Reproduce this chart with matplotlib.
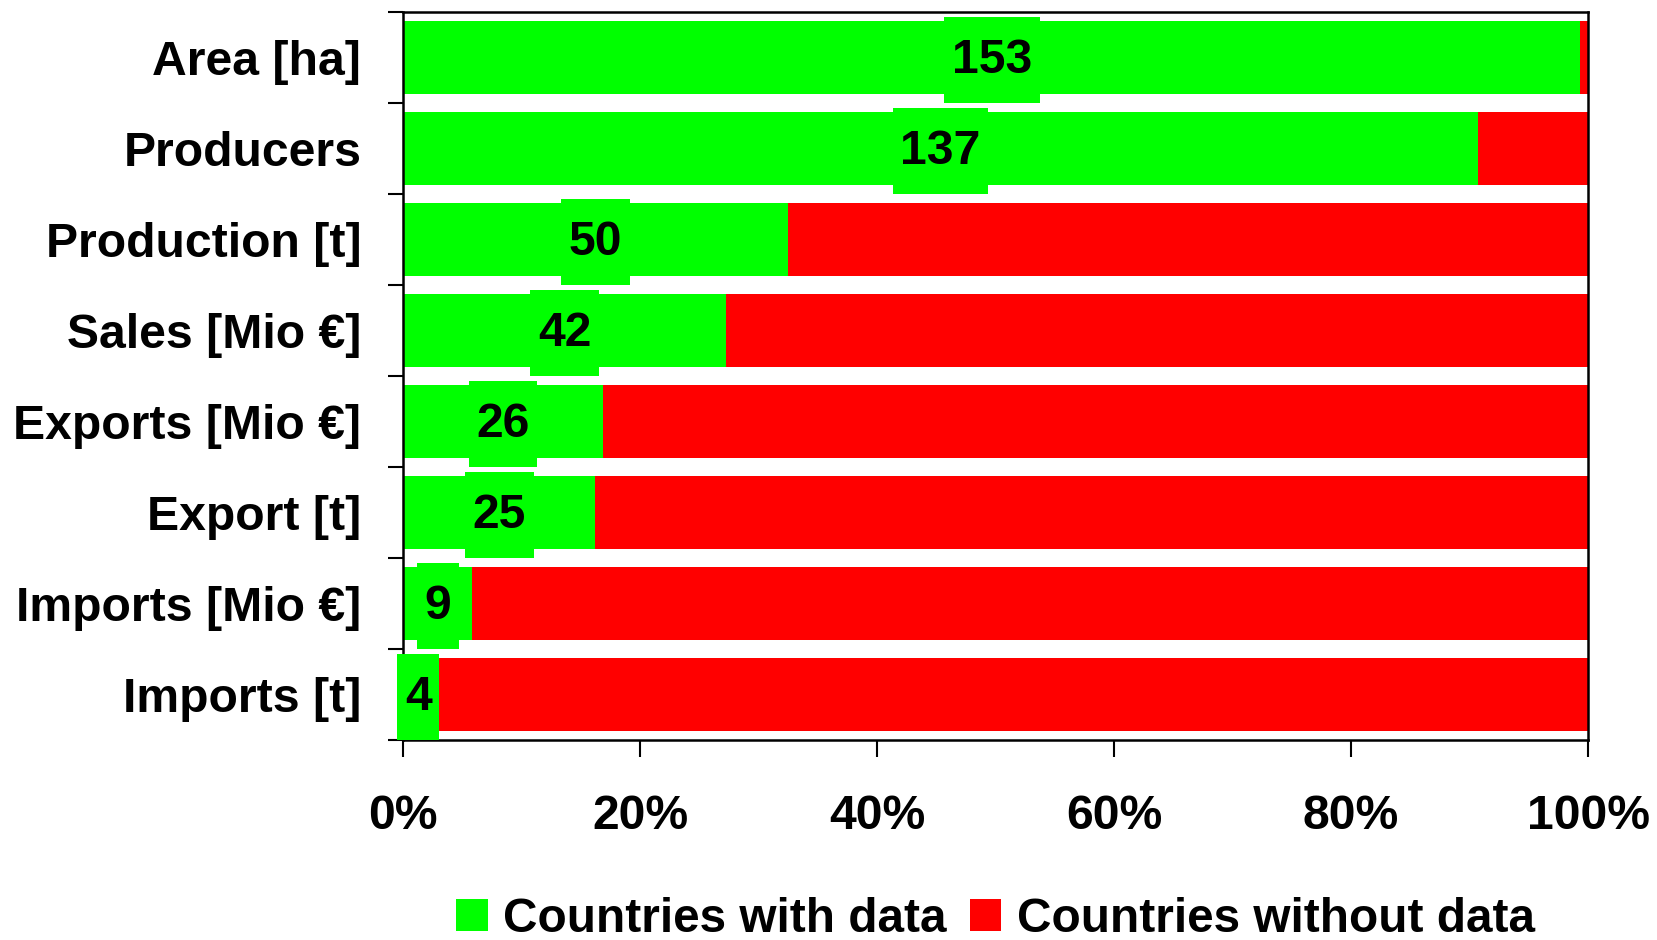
import matplotlib
matplotlib.use("Agg")
import matplotlib.pyplot as plt
from matplotlib.path import Path
from matplotlib.patches import Patch
from matplotlib.ticker import FixedLocator, PercentFormatter

categories = ['Area [ha]', 'Producers', 'Production [t]', 'Sales [Mio €]',
              'Exports [Mio €]', 'Export [t]', 'Imports [Mio €]', 'Imports [t]']
with_data = [153, 137, 50, 42, 26, 25, 9, 4]
without_data = [1, 14, 104, 112, 128, 129, 145, 150]
series_names = ['Countries with data', 'Countries without data']
x_ticks = [0, 20, 40, 60, 80, 100]

GREEN = '#00FF00'
RED = '#FF0000'
FS = 34.7

plt.rcParams['font.family'] = ['Liberation Sans', 'DejaVu Sans']
plt.rcParams['font.weight'] = 'bold'

fig = plt.figure(figsize=(16.57, 9.40), dpi=100)
ax = fig.add_axes([0.2432, 0.2128, 0.9584 - 0.2432, 0.9872 - 0.2128])

totals = [a + b for a, b in zip(with_data, without_data)]
pct_with = [100.0 * a / t for a, t in zip(with_data, totals)]
pct_without = [100.0 * b / t for b, t in zip(without_data, totals)]
ypos = list(range(len(categories)))

ax.barh(ypos, pct_with, height=0.81, color=GREEN, zorder=2)
ax.barh(ypos, pct_without, left=pct_with, height=0.81, color=RED, zorder=2)


def tallbox(x0, y0, width, height, mutation_size):
    px = 0.16 * mutation_size
    py = 0.43 * mutation_size
    xa, ya = x0 - px, y0 - py
    xb, yb = x0 + width + px, y0 + height + py
    return Path([(xa, ya), (xb, ya), (xb, yb), (xa, yb), (xa, ya)], closed=True)


for y, p, v in zip(ypos, pct_with, with_data):
    ax.text(p / 2, y + 0.03, str(v), ha='center', va='center', fontsize=FS,
            fontweight='bold', color='black', zorder=5, clip_on=False,
            bbox=dict(boxstyle=tallbox, facecolor=GREEN, edgecolor='none'))

ax.set_xlim(0, 100)
ax.set_ylim(len(categories) - 0.5, -0.5)

ax.set_xticks(x_ticks)
ax.xaxis.set_major_formatter(PercentFormatter(decimals=0))
ax.tick_params(axis='x', direction='out', length=12, width=1.5, pad=27,
               labelsize=FS, colors='black')

ax.set_yticks(ypos)
ax.set_yticklabels(categories)
ax.yaxis.set_minor_locator(FixedLocator([i - 0.5 for i in range(len(categories) + 1)]))
ax.tick_params(axis='y', which='major', length=0, pad=30, labelsize=FS)
ax.tick_params(axis='y', which='minor', direction='out', length=11, width=1.5)

for s in ax.spines.values():
    s.set_linewidth(1.8)
    s.set_color('black')
    s.set_zorder(3)

handles = [Patch(facecolor=GREEN, edgecolor='none'),
           Patch(facecolor=RED, edgecolor='none')]
fig.legend(handles, series_names, loc='center', bbox_to_anchor=(0.6008, 0.022),
           ncol=2, frameon=False, fontsize=34.4, handlelength=0.65,
           handleheight=0.65, handletextpad=0.32, columnspacing=0.5,
           borderaxespad=0, borderpad=0)

fig.savefig('out.png', dpi=100)
